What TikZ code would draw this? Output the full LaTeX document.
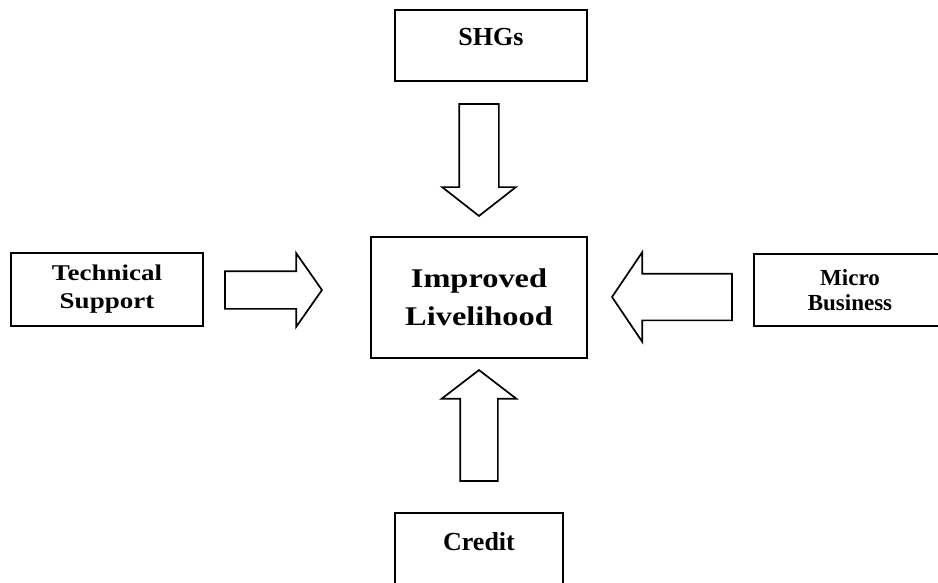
\documentclass[tikz,border=0pt]{standalone}
\usepackage{fontspec}
\setmainfont{Liberation Serif}
\newfontfamily\widefont[FakeStretch=1.2]{Liberation Serif}
\usetikzlibrary{shapes.arrows}

\tikzset{
  box/.style={draw, line width=1.7pt, inner sep=0pt, align=center},
  blockarrow/.style={single arrow, draw, line width=1.7pt, inner xsep=0pt, anchor=tip}
}

\begin{document}
\begin{tikzpicture}[x=1pt,y=-1pt]
  \useasboundingbox (0,0) rectangle (938,582);

  % the five boxes
  \node[box, minimum width=192pt, minimum height=71pt, text height=12pt, text depth=12pt,
        font=\fontsize{26pt}{30pt}\selectfont\bfseries] (shg) at (491,45.5) {SHGs};
  \node[box, minimum width=216pt, minimum height=121pt,
        font=\widefont\fontsize{27pt}{38pt}\selectfont\bfseries] (live) at (479,297.5) {Improved\\Livelihood};
  \node[box, minimum width=192pt, minimum height=73pt,
        font=\widefont\fontsize{22.5pt}{28pt}\selectfont\bfseries] (tech) at (107,289.5) {Technical\\Support};
  \node[box, minimum width=192pt, minimum height=72pt,
        font=\fontsize{23pt}{25pt}\selectfont\bfseries] (micro) at (850,290) {Micro\\Business};
  \node[box, minimum width=168pt, minimum height=75pt, text height=12pt, text depth=12pt,
        font=\fontsize{26pt}{30pt}\selectfont\bfseries] (credit) at (479,550.5) {Credit};

  % block arrows into the centre (placed by their tips)
  \node[blockarrow, minimum height=112pt, inner ysep=19pt, single arrow head extend=17pt,
        single arrow tip angle=104, rotate=-90] (shg-arrow) at (479,217) {};
  \node[blockarrow, minimum height=111pt, inner ysep=18pt, single arrow head extend=18.5pt,
        single arrow tip angle=105, rotate=90] (credit-arrow) at (479,369) {};
  \node[blockarrow, minimum height=97pt, inner ysep=18pt, single arrow head extend=18pt,
        single arrow tip angle=110] (tech-arrow) at (323,290) {};
  \node[blockarrow, minimum height=120pt, inner ysep=22.5pt, single arrow head extend=21.5pt,
        single arrow tip angle=112, rotate=180] (micro-arrow) at (611,297) {};
\end{tikzpicture}
\end{document}
